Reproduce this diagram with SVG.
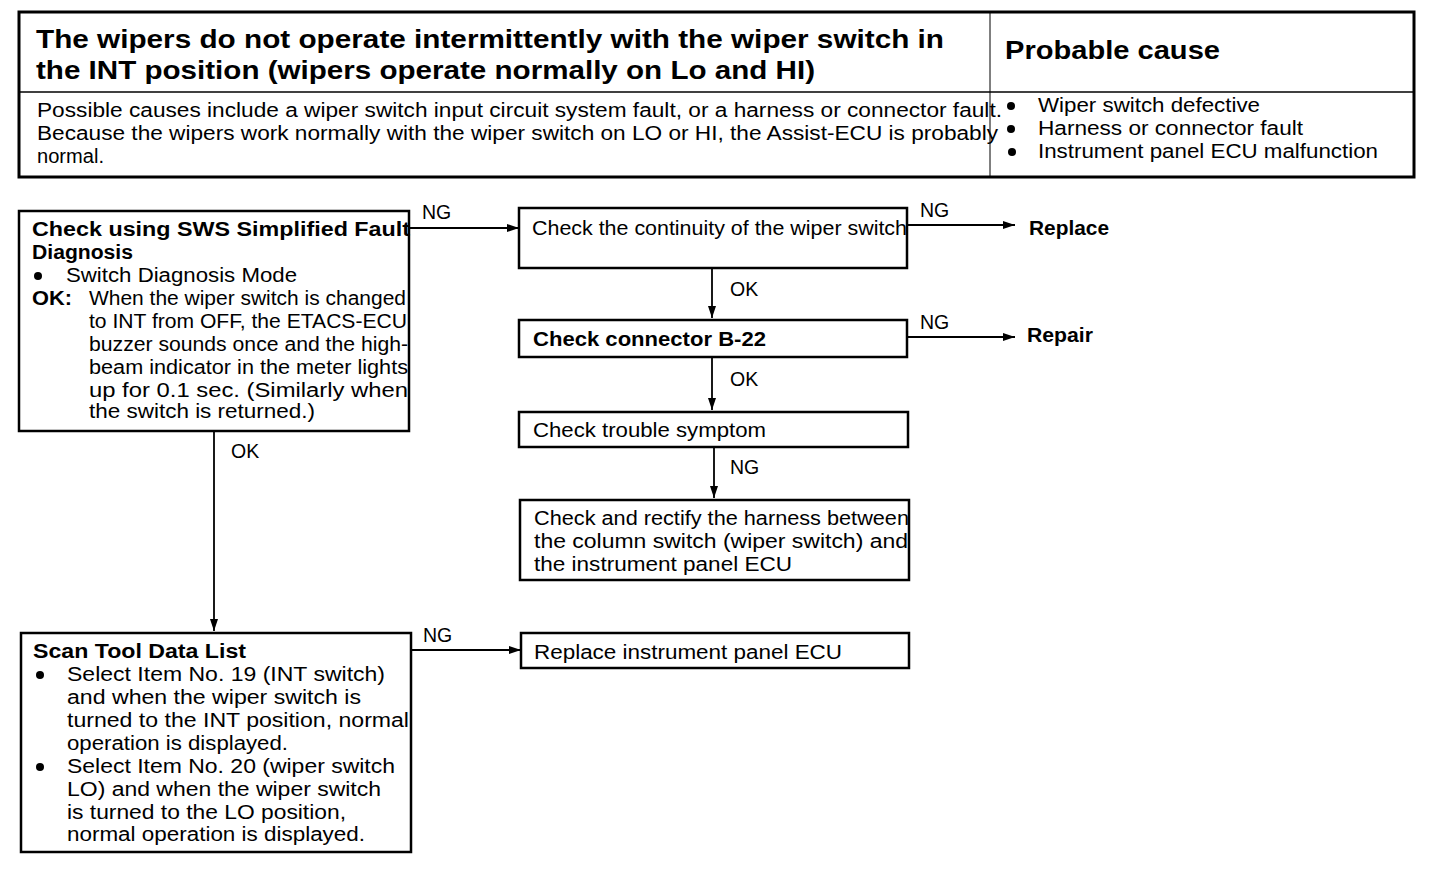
<svg xmlns="http://www.w3.org/2000/svg" width="1456" height="890" viewBox="0 0 1456 890">
<style>
text{font-family:"Liberation Sans",Arial,sans-serif;fill:#000}
.t{font-size:19.5px}
.b{font-size:19.5px;font-weight:bold}
.h{font-size:26px;font-weight:bold}
.box{fill:#fff;stroke:#000;stroke-width:2.5}
.ln{stroke:#000;stroke-width:1.8;fill:none}
</style>
<defs>
<marker id="ar" viewBox="0 0 12 8" refX="12" refY="4" markerWidth="12" markerHeight="8" markerUnits="userSpaceOnUse" orient="auto">
<path d="M0,0 L12,4 L0,8 Z" fill="#000"/>
</marker>
</defs>
<rect width="1456" height="890" fill="#fff"/>

<g id="header">
<rect x="19" y="12" width="1395" height="165" fill="#fff" stroke="#000" stroke-width="3"/>
<line x1="19" y1="92" x2="1414" y2="92" stroke="#000" stroke-width="1.5"/>
<line x1="990" y1="12" x2="990" y2="177" stroke="#000" stroke-width="1"/>
<text class="h" x="36" y="48" textLength="908" lengthAdjust="spacingAndGlyphs">The wipers do not operate intermittently with the wiper switch in</text>
<text class="h" x="36" y="79" textLength="779" lengthAdjust="spacingAndGlyphs">the INT position (wipers operate normally on Lo and HI)</text>
<text class="h" x="1005" y="59" textLength="215" lengthAdjust="spacingAndGlyphs">Probable cause</text>
<text class="t" x="37" y="117" textLength="965" lengthAdjust="spacingAndGlyphs">Possible causes include a wiper switch input circuit system fault, or a harness or connector fault.</text>
<text class="t" x="37" y="140" textLength="961" lengthAdjust="spacingAndGlyphs">Because the wipers work normally with the wiper switch on LO or HI, the Assist-ECU is probably</text>
<text class="t" x="37" y="163" textLength="67" lengthAdjust="spacingAndGlyphs">normal.</text>
<circle cx="1011" cy="106" r="4"/>
<circle cx="1011" cy="129" r="4"/>
<circle cx="1012" cy="152" r="4"/>
<text class="t" x="1038" y="112" textLength="222" lengthAdjust="spacingAndGlyphs">Wiper switch defective</text>
<text class="t" x="1038" y="135" textLength="265" lengthAdjust="spacingAndGlyphs">Harness or connector fault</text>
<text class="t" x="1038" y="158" textLength="340" lengthAdjust="spacingAndGlyphs">Instrument panel ECU malfunction</text>
</g>

<g id="connectors">
<line class="ln" x1="409" y1="228" x2="519" y2="228" marker-end="url(#ar)"/>
<text class="t" x="422" y="219">NG</text>
<line class="ln" x1="907" y1="225" x2="1015" y2="225" marker-end="url(#ar)"/>
<text class="t" x="920" y="217">NG</text>
<line class="ln" x1="712" y1="268" x2="712" y2="318" marker-end="url(#ar)"/>
<text class="t" x="730" y="296">OK</text>
<line class="ln" x1="907" y1="337" x2="1015" y2="337" marker-end="url(#ar)"/>
<text class="t" x="920" y="329">NG</text>
<line class="ln" x1="712" y1="357" x2="712" y2="410" marker-end="url(#ar)"/>
<text class="t" x="730" y="386">OK</text>
<line class="ln" x1="714" y1="447" x2="714" y2="498" marker-end="url(#ar)"/>
<text class="t" x="730" y="474">NG</text>
<line class="ln" x1="214" y1="431" x2="214" y2="631" marker-end="url(#ar)"/>
<text class="t" x="231" y="458">OK</text>
<line class="ln" x1="411" y1="650" x2="521" y2="650" marker-end="url(#ar)"/>
<text class="t" x="423" y="642">NG</text>
</g>

<g id="n1">
<rect class="box" x="19" y="211" width="390" height="220"/>
<text class="b" x="32" y="236" textLength="378" lengthAdjust="spacingAndGlyphs">Check using SWS Simplified Fault</text>
<text class="b" x="32" y="259" textLength="101" lengthAdjust="spacingAndGlyphs">Diagnosis</text>
<circle cx="38" cy="276" r="4"/>
<text class="t" x="66" y="282" textLength="231" lengthAdjust="spacingAndGlyphs">Switch Diagnosis Mode</text>
<text class="b" x="32" y="305" textLength="40" lengthAdjust="spacingAndGlyphs">OK:</text>
<text class="t" x="89" y="305" textLength="317" lengthAdjust="spacingAndGlyphs">When the wiper switch is changed</text>
<text class="t" x="89" y="328" textLength="318" lengthAdjust="spacingAndGlyphs">to INT from OFF, the ETACS-ECU</text>
<text class="t" x="89" y="351" textLength="319" lengthAdjust="spacingAndGlyphs">buzzer sounds once and the high-</text>
<text class="t" x="89" y="374" textLength="319" lengthAdjust="spacingAndGlyphs">beam indicator in the meter lights</text>
<text class="t" x="89" y="397" textLength="319" lengthAdjust="spacingAndGlyphs">up for 0.1 sec. (Similarly when</text>
<text class="t" x="89" y="418" textLength="226" lengthAdjust="spacingAndGlyphs">the switch is returned.)</text>
</g>

<g id="n2">
<rect class="box" x="519" y="208" width="388" height="60"/>
<text class="t" x="532" y="235" textLength="375" lengthAdjust="spacingAndGlyphs">Check the continuity of the wiper switch</text>
</g>

<g id="n_replace">
<text class="b" x="1029" y="235" textLength="80" lengthAdjust="spacingAndGlyphs">Replace</text>
</g>

<g id="n3">
<rect class="box" x="519" y="320" width="388" height="37"/>
<text class="b" x="533" y="346" textLength="233" lengthAdjust="spacingAndGlyphs">Check connector B-22</text>
</g>

<g id="n_repair">
<text class="b" x="1027" y="342" textLength="66" lengthAdjust="spacingAndGlyphs">Repair</text>
</g>

<g id="n4">
<rect class="box" x="519" y="412" width="389" height="35"/>
<text class="t" x="533" y="437" textLength="233" lengthAdjust="spacingAndGlyphs">Check trouble symptom</text>
</g>

<g id="n5">
<rect class="box" x="520" y="500" width="389" height="80"/>
<text class="t" x="534" y="525" textLength="375" lengthAdjust="spacingAndGlyphs">Check and rectify the harness between</text>
<text class="t" x="534" y="548" textLength="374" lengthAdjust="spacingAndGlyphs">the column switch (wiper switch) and</text>
<text class="t" x="534" y="571" textLength="258" lengthAdjust="spacingAndGlyphs">the instrument panel ECU</text>
</g>

<g id="n6">
<rect class="box" x="21" y="633" width="390" height="219"/>
<text class="b" x="33" y="658" textLength="213" lengthAdjust="spacingAndGlyphs">Scan Tool Data List</text>
<circle cx="40" cy="675" r="4"/>
<text class="t" x="67" y="681" textLength="318" lengthAdjust="spacingAndGlyphs">Select Item No. 19 (INT switch)</text>
<text class="t" x="67" y="704" textLength="294" lengthAdjust="spacingAndGlyphs">and when the wiper switch is</text>
<text class="t" x="67" y="727" textLength="342" lengthAdjust="spacingAndGlyphs">turned to the INT position, normal</text>
<text class="t" x="67" y="750" textLength="221" lengthAdjust="spacingAndGlyphs">operation is displayed.</text>
<circle cx="40" cy="767" r="4"/>
<text class="t" x="67" y="773" textLength="328" lengthAdjust="spacingAndGlyphs">Select Item No. 20 (wiper switch</text>
<text class="t" x="67" y="796" textLength="314" lengthAdjust="spacingAndGlyphs">LO) and when the wiper switch</text>
<text class="t" x="67" y="819" textLength="279" lengthAdjust="spacingAndGlyphs">is turned to the LO position,</text>
<text class="t" x="67" y="841" textLength="298" lengthAdjust="spacingAndGlyphs">normal operation is displayed.</text>
</g>

<g id="n7">
<rect class="box" x="521" y="633" width="388" height="35"/>
<text class="t" x="534" y="659" textLength="308" lengthAdjust="spacingAndGlyphs">Replace instrument panel ECU</text>
</g>
</svg>
